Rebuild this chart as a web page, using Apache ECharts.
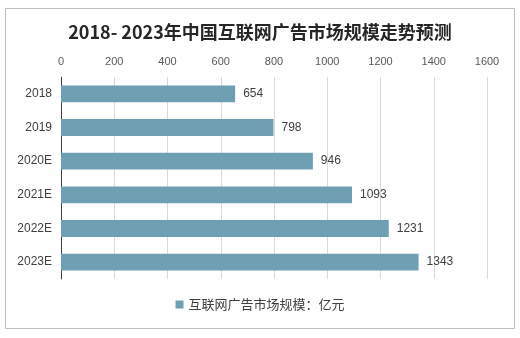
<!DOCTYPE html>
<html><head><meta charset="utf-8">
<script src="https://cdn.jsdelivr.net/npm/echarts@6/dist/echarts.min.js"></script>
<style>html,body{margin:0;padding:0;background:#fff}#c{width:520px;height:338px}</style>
</head><body><div id="c"></div>
<script>
const categories = ['2018','2019','2020E','2021E','2022E','2023E'];
const values = [654, 798, 946, 1093, 1231, 1343];
const seriesName = '互联网广告市场规模：亿元';
const titleText = '2018- 2023年中国互联网广告市场规模走势预测';

const chart = echarts.init(document.getElementById('c'), null, {renderer:'canvas'});
const font = '"Noto Sans CJK SC", "Noto Sans", sans-serif';
const numFont = '"Liberation Sans", Arial, sans-serif';
chart.setOption({
  animation:false,
  backgroundColor:'#fff',
  title:{text:titleText,left:'center',top:18,textStyle:{fontFamily:font,fontSize:18,fontWeight:'bold',color:'#262626'}},
  graphic:[{type:'rect',shape:{x:5.5,y:8.5,width:509,height:320},style:{fill:'none',stroke:'#bfbfbf',lineWidth:1}}],
  grid:{left:61,right:33,top:77,bottom:59},
  legend:{bottom:22,left:'center',itemWidth:8,itemHeight:8,icon:'rect',itemGap:4,
    textStyle:{fontFamily:font,fontSize:13,color:'#404040'},data:[seriesName]},
  xAxis:{type:'value',position:'top',min:0,max:1600,interval:200,
    axisLine:{show:false},axisTick:{show:false},
    axisLabel:{fontFamily:numFont,fontSize:11,color:'#595959',margin:10,formatter:v=>String(v)},
    splitLine:{lineStyle:{color:'#d9d9d9'}}},
  yAxis:{type:'category',inverse:true,data:categories,
    axisLine:{lineStyle:{color:'#404040',width:1}},axisTick:{show:false},
    axisLabel:{fontFamily:numFont,fontSize:12,color:'#404040',margin:9}},
  series:[{name:seriesName,type:'bar',data:values,barWidth:'50%',
    itemStyle:{color:'#6f9fb3'},
    label:{show:true,position:'right',distance:8,fontFamily:numFont,fontSize:12,color:'#404040'}}]
});
</script></body></html>
